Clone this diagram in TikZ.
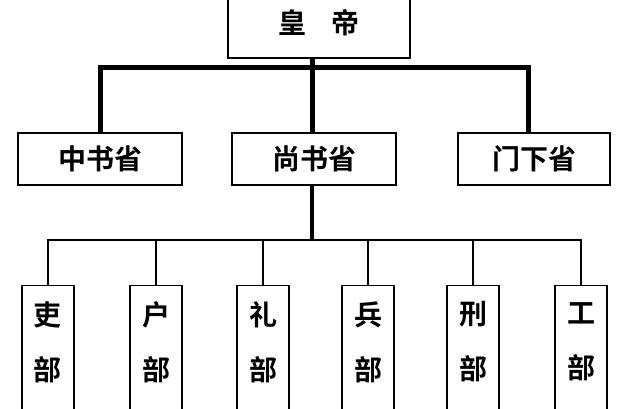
\documentclass[tikz,border=0pt]{standalone}
\usepackage{fontspec}
\newfontfamily\cjk{Noto Sans CJK SC}[BoldFont={Noto Sans CJK SC Bold}]
\usetikzlibrary{positioning}
\tikzset{
  office/.style={draw, line width=1.2pt, minimum width=164pt, minimum height=52pt, font=\cjk\bfseries\fontsize{28}{30}\selectfont, inner sep=0pt},
  dept/.style={draw, line width=1.2pt, minimum width=52pt, minimum height=130pt, anchor=north, font=\cjk\bfseries\fontsize{28}{55}\selectfont, align=center, inner sep=0pt, text depth=20pt},
  thick line/.style={line width=5pt},
  thin line/.style={line width=1.6pt}
}
\begin{document}
\begin{tikzpicture}[x=1pt,y=1pt]
  \useasboundingbox (0,0) rectangle (640,-409);
  \fill[white] (0,0) rectangle (640,-409);
  % emperor
  \node[office, minimum width=182pt, minimum height=70pt] (emperor) at (319,-23) {皇\hspace{0.9em}帝};
  % three departments
  \node[office] (zhongshu) at (100,-159) {中书省};
  \node[office] (shangshu) at (314,-159) {尚书省};
  \node[office, minimum width=152pt] (menxia) at (534,-159) {门下省};
  \coordinate (top) at (312,-68);
  \coordinate (mid) at (312,-240);
  \draw[thick line] (zhongshu.north -| 100,0) |- (top) -| (menxia.north -| 528,0);
  \draw[thick line] (emperor.south -| top) -- (shangshu.north -| top);
  % six ministries
  \foreach \name/\x/\t in {li/48/吏, hu/156/户, lii/263/礼, bing/368/兵, xing/473/刑, gong/581/工}
  {
    \node[dept] (\name) at (\x,-285) {\t\\部};
  }
  \draw[line width=4pt] (shangshu.south -| mid) -- ([yshift=-1pt]mid);
  \draw[thin line] (li.north) |- (mid) -| (gong.north);
  \foreach \name in {hu, lii, bing, xing}
    \draw[thin line] (\name.north) -- (\name.north |- mid);
\end{tikzpicture}
\end{document}
